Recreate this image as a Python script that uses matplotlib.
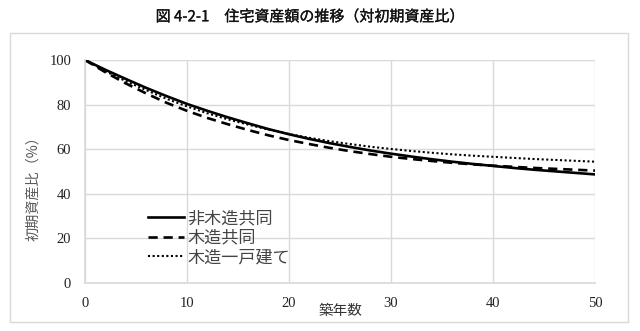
import matplotlib
matplotlib.use("Agg")
import matplotlib.pyplot as plt
import matplotlib.patheffects as pe
from matplotlib.patches import Rectangle

plt.rcParams['font.family'] = ['Noto Sans CJK JP', 'DejaVu Sans']

years = list(range(0, 51, 2))
non_wood_condo = [100, 95.6, 91.5, 87.5, 83.8, 80.3, 77.2, 74.3, 71.6, 69.0, 66.7,
                  64.6, 62.7, 61.0, 59.4, 58.0, 56.7, 55.5, 54.4, 53.4, 52.5,
                  51.6, 50.8, 50.1, 49.4, 48.7]
wood_condo = [100, 94.5, 89.5, 85.0, 80.8, 77.2, 74.0, 71.2, 68.6, 66.2, 64.1,
              62.3, 60.6, 59.1, 57.8, 56.6, 55.6, 54.7, 53.9, 53.2, 52.6,
              52.1, 51.6, 51.2, 50.8, 50.4]
wood_house = [100, 95.0, 90.5, 86.5, 82.6, 79.2, 76.1, 73.4, 71.0, 68.8, 66.8,
              65.1, 63.6, 62.3, 61.1, 60.1, 59.2, 58.4, 57.7, 57.1, 56.6,
              56.1, 55.6, 55.2, 54.8, 54.4]
series_names = ['非木造共同', '木造共同', '木造一戸建て']
x_ticks = [0, 10, 20, 30, 40, 50]
y_ticks = [0, 20, 40, 60, 80, 100]

W, H = 640, 331
fig = plt.figure(figsize=(W / 100, H / 100), dpi=100)
fig.patch.set_facecolor('white')

# outer chart frame
fig.patches.append(Rectangle((10 / W, 1 - 322 / H), 618 / W, 289 / H,
                             transform=fig.transFigure, fill=False,
                             edgecolor='#d9d9d9', linewidth=1.0))

title = fig.text(310 / W, 1 - 17 / H, '図 4-2-1　住宅資産額の推移（対初期資産比）',
                 ha='center', va='center', fontsize=10.8, color='#111111')
title.set_path_effects([pe.withStroke(linewidth=0.22, foreground='#111111')])

ax = fig.add_axes([85 / W, 1 - 283 / H, 510 / W, 223 / H])
ax.plot(years, non_wood_condo, color='black', lw=1.9, ls='-', label=series_names[0])
ax.plot(years, wood_condo, color='black', lw=1.9, ls=(0, (3.5, 2.2)), label=series_names[1])
ax.plot(years, wood_house, color='black', lw=1.5, ls=(0, (1, 1.2)), label=series_names[2])

ax.set_xlim(0, 50)
ax.set_ylim(0, 100)
ax.set_xticks(x_ticks)
ax.set_yticks(y_ticks)
ax.grid(True, color='#d9d9d9', lw=1.0)
ax.set_axisbelow(True)
for s in ['top', 'right']:
    ax.spines[s].set_visible(False)
for s in ['left', 'bottom']:
    ax.spines[s].set_color('#d9d9d9')
    ax.spines[s].set_linewidth(1.2)
ax.tick_params(length=0, pad=10, labelsize=10.5, colors='#222222')
for lab in ax.get_xticklabels() + ax.get_yticklabels():
    lab.set_fontfamily(['Liberation Serif', 'DejaVu Serif'])

ax.set_xlabel('築年数', fontsize=10.5, color='#333333', labelpad=0)
ax.xaxis.set_label_coords(0.5, -0.095)
ax.set_ylabel('初期資産比（%）', fontsize=10.2, color='#595959')
ax.yaxis.set_label_coords(-0.088, 0.44)

leg = ax.legend(loc='lower left', bbox_to_anchor=(0.11, 0.045), frameon=False,
                fontsize=12.3, handlelength=2.1, handletextpad=0.2,
                labelspacing=0.08, borderaxespad=0)
for t in leg.get_texts():
    t.set_color('#444444')

fig.savefig('out.png', dpi=100)
